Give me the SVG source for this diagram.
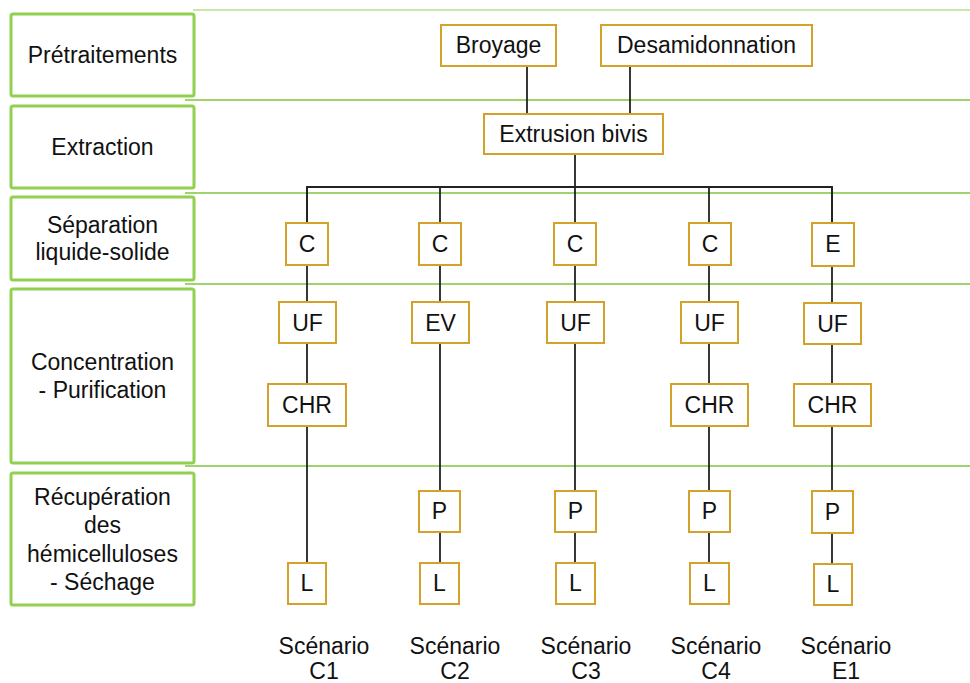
<svg xmlns="http://www.w3.org/2000/svg" width="970" height="683" viewBox="0 0 970 683">
<style>
.bg{fill:#fff}
.stage{fill:#fff;stroke:#92d050;stroke-width:3}
.sep{stroke:#9ed46e;stroke-width:2;fill:none}
.box{fill:#fff;stroke:#d4a12a;stroke-width:2}
.ln{stroke:#222;stroke-width:1.8;fill:none}
text{font-family:"Liberation Sans",Arial,sans-serif;font-size:23px;fill:#111;text-anchor:middle}
</style>
<rect class="bg" x="0" y="0" width="970" height="683"/>
<g id="separators">
<line class="sep" x1="193" y1="10" x2="970" y2="10" style="stroke:#c8e8a8"/>
<line class="sep" x1="185" y1="100" x2="970" y2="100"/>
<line class="sep" x1="185" y1="193" x2="970" y2="193"/>
<line class="sep" x1="185" y1="284" x2="970" y2="284"/>
<line class="sep" x1="185" y1="466" x2="970" y2="466"/>
</g>
<g id="stage-pretraitements"><rect class="stage" x="11" y="14" width="183" height="82" rx="2"/><text x="102.5" y="63">Prétraitements</text></g>
<g id="stage-extraction"><rect class="stage" x="11" y="106" width="183" height="82" rx="2"/><text x="102.5" y="155">Extraction</text></g>
<g id="stage-separation"><rect class="stage" x="11" y="197" width="183" height="83" rx="2"/><text x="102.5" y="233">Séparation</text><text x="102.5" y="260">liquide-solide</text></g>
<g id="stage-concentration"><rect class="stage" x="11" y="289" width="183" height="174" rx="2"/><text x="102.5" y="370">Concentration</text><text x="102.5" y="398">- Purification</text></g>
<g id="stage-recuperation"><rect class="stage" x="11" y="473" width="183" height="132" rx="2"/><text x="102.5" y="505">Récupération</text><text x="102.5" y="533">des</text><text x="102.5" y="562">hémicelluloses</text><text x="102.5" y="590">- Séchage</text></g>
<g id="connectors">
<line class="ln" x1="527" y1="66" x2="527" y2="114"/>
<line class="ln" x1="630" y1="66" x2="630" y2="114"/>
<line class="ln" x1="575" y1="154" x2="575" y2="187"/>
<polyline class="ln" points="307,224 307,187 832,187 832,224"/>
<line class="ln" x1="307" y1="187" x2="307" y2="564"/>
<line class="ln" x1="440" y1="187" x2="440" y2="564"/>
<line class="ln" x1="575" y1="187" x2="575" y2="564"/>
<line class="ln" x1="709" y1="187" x2="709" y2="564"/>
<line class="ln" x1="832" y1="187" x2="832" y2="564"/>
</g>
<g id="broyage"><rect class="box" x="441" y="25" width="115" height="41"/><text x="498.5" y="53">Broyage</text></g>
<g id="desamidonnation"><rect class="box" x="601" y="25" width="211" height="41"/><text x="706.5" y="53">Desamidonnation</text></g>
<g id="extrusion"><rect class="box" x="484" y="114" width="179" height="40"/><text x="573.5" y="142">Extrusion bivis</text></g>
<g id="c1-sep"><rect class="box" x="286" y="223" width="42" height="42"/><text x="307" y="252">C</text></g>
<g id="c2-sep"><rect class="box" x="419" y="223" width="42" height="42"/><text x="440" y="252">C</text></g>
<g id="c3-sep"><rect class="box" x="554" y="223" width="42" height="42"/><text x="575" y="252">C</text></g>
<g id="c4-sep"><rect class="box" x="689" y="223" width="42" height="42"/><text x="710" y="252">C</text></g>
<g id="e1-sep"><rect class="box" x="812" y="223" width="42" height="43"/><text x="833" y="252">E</text></g>
<g id="c1-uf"><rect class="box" x="279" y="302" width="57" height="41"/><text x="307.5" y="331">UF</text></g>
<g id="c2-ev"><rect class="box" x="412" y="302" width="57" height="41"/><text x="440.5" y="331">EV</text></g>
<g id="c3-uf"><rect class="box" x="547" y="302" width="57" height="41"/><text x="575.5" y="331">UF</text></g>
<g id="c4-uf"><rect class="box" x="681" y="302" width="57" height="41"/><text x="709.5" y="331">UF</text></g>
<g id="e1-uf"><rect class="box" x="804" y="303" width="57" height="41"/><text x="832.5" y="332">UF</text></g>
<g id="c1-chr"><rect class="box" x="268" y="384" width="78" height="42"/><text x="307" y="413">CHR</text></g>
<g id="c4-chr"><rect class="box" x="671" y="384" width="77" height="42"/><text x="709.5" y="413">CHR</text></g>
<g id="e1-chr"><rect class="box" x="794" y="384" width="77" height="42"/><text x="832.5" y="413">CHR</text></g>
<g id="c2-p"><rect class="box" x="419" y="491" width="41" height="41"/><text x="439.5" y="519">P</text></g>
<g id="c3-p"><rect class="box" x="555" y="491" width="41" height="41"/><text x="575.5" y="519">P</text></g>
<g id="c4-p"><rect class="box" x="689" y="491" width="41" height="41"/><text x="709.5" y="519">P</text></g>
<g id="e1-p"><rect class="box" x="812" y="491" width="41" height="42"/><text x="832.5" y="520">P</text></g>
<g id="c1-l"><rect class="box" x="288" y="563" width="38" height="41"/><text x="307" y="591">L</text></g>
<g id="c2-l"><rect class="box" x="420" y="563" width="39" height="41"/><text x="439.5" y="591">L</text></g>
<g id="c3-l"><rect class="box" x="556" y="563" width="39" height="41"/><text x="575.5" y="591">L</text></g>
<g id="c4-l"><rect class="box" x="690" y="563" width="39" height="41"/><text x="709.5" y="591">L</text></g>
<g id="e1-l"><rect class="box" x="814" y="564" width="38" height="41"/><text x="833" y="592">L</text></g>
<g id="labels">
<text x="324" y="654">Scénario</text><text x="324" y="679">C1</text>
<text x="455" y="654">Scénario</text><text x="455" y="679">C2</text>
<text x="586" y="654">Scénario</text><text x="586" y="679">C3</text>
<text x="716" y="654">Scénario</text><text x="716" y="679">C4</text>
<text x="846" y="654">Scénario</text><text x="846" y="679">E1</text>
</g>
</svg>
